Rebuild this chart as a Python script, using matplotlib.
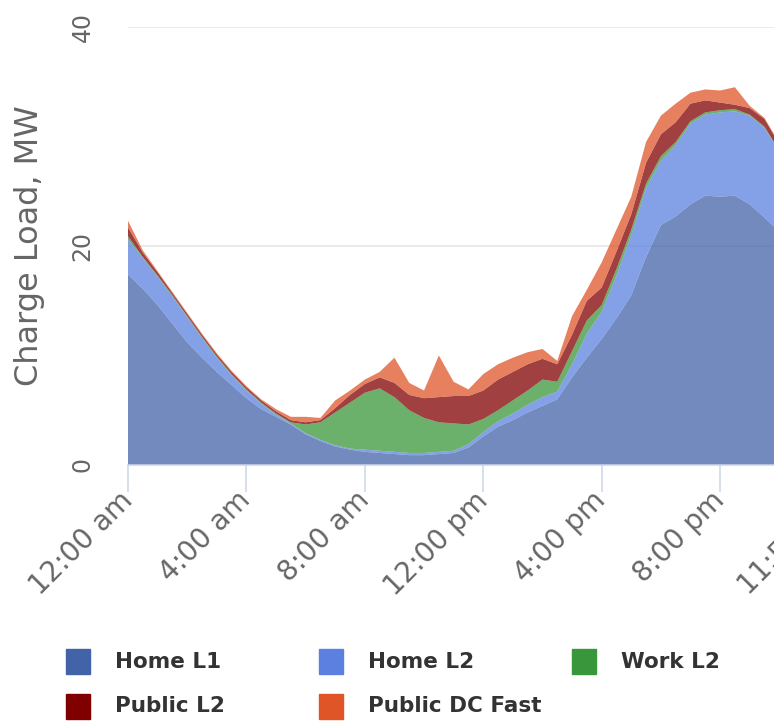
import matplotlib
matplotlib.use("Agg")
import matplotlib.pyplot as plt
from matplotlib.patches import Rectangle

# half-hour steps over the day (hours after midnight)
hours = [i * 0.5 for i in range(49)]

home_l1 = [17.4, 16.1, 14.6, 12.9, 11.2, 9.8, 8.5, 7.3, 6.1, 5.1,
           4.4, 3.7, 2.8, 2.2, 1.7, 1.4, 1.2, 1.1, 1.0, 0.9,
           0.9, 1.0, 1.1, 1.6, 2.6, 3.5, 4.1, 4.8, 5.4, 6.0,
           8.0, 9.8, 11.5, 13.4, 15.5, 19.0, 21.9, 22.7, 23.8, 24.6,
           24.5, 24.6, 23.8, 22.6, 21.3, 20.5, 19.6, 18.7, 17.8]
home_l2 = [3.2, 2.8, 2.6, 2.5, 2.3, 1.8, 1.3, 0.9, 0.7, 0.5,
           0.2, 0.1, 0.1, 0.1, 0.1, 0.1, 0.2, 0.2, 0.2, 0.2,
           0.2, 0.2, 0.2, 0.3, 0.4, 0.5, 0.6, 0.7, 0.8, 0.7,
           1.2, 2.2, 2.5, 3.9, 5.5, 6.3, 5.9, 6.5, 7.4, 7.4,
           7.7, 7.7, 8.1, 8.2, 7.3, 6.5, 5.9, 5.1, 4.4]
work_l2 = [0.3, 0.1, 0.1, 0.1, 0.1, 0.1, 0.1, 0.1, 0.1, 0.1,
           0.1, 0.1, 0.8, 1.6, 3.0, 4.2, 5.2, 5.7, 5.0, 3.9,
           3.2, 2.7, 2.5, 1.8, 1.2, 1.0, 1.2, 1.3, 1.6, 0.9,
           1.2, 1.2, 0.6, 0.6, 0.5, 0.4, 0.4, 0.3, 0.2, 0.2,
           0.2, 0.2, 0.1, 0.1, 0.1, 0.1, 0.1, 0.1, 0.1]
public_l2 = [0.8, 0.4, 0.3, 0.2, 0.2, 0.2, 0.2, 0.2, 0.2, 0.2,
             0.2, 0.2, 0.2, 0.2, 0.4, 0.7, 0.8, 1.0, 1.3, 1.4,
             1.8, 2.3, 2.5, 2.6, 2.6, 2.8, 2.6, 2.4, 1.9, 1.6,
             1.5, 1.8, 1.6, 1.6, 1.4, 1.9, 2.0, 1.8, 1.6, 1.1,
             0.7, 0.4, 0.6, 0.7, 0.6, 0.5, 0.5, 0.5, 0.4]
public_dc = [0.6, 0.2, 0.1, 0.1, 0.1, 0.1, 0.1, 0.1, 0.1, 0.1,
             0.2, 0.3, 0.5, 0.2, 0.7, 0.4, 0.4, 0.5, 2.3, 1.1,
             0.7, 3.8, 1.3, 0.6, 1.5, 1.4, 1.3, 1.1, 0.9, 0.3,
             1.7, 1.0, 2.3, 2.0, 1.6, 1.9, 1.7, 1.7, 1.0, 1.0,
             1.1, 1.6, 0.2, 0.1, 0.1, 0.1, 0.1, 0.1, 0.1]

series_names = ["Home L1", "Home L2", "Work L2", "Public L2", "Public DC Fast"]
colors = ["#4363a8", "#5b80e0", "#3a963a", "#800000", "#e05528"]

tick_hours = [0, 4, 8, 12, 16, 20, 23 + 59 / 60]
tick_labels = ["12:00 am", "4:00 am", "8:00 am", "12:00 pm", "4:00 pm", "8:00 pm", "11:59 pm"]

W, H = 774, 723
fig = plt.figure(figsize=(W / 100, H / 100), dpi=100)
# plot area runs past the right edge, like the cropped screenshot
ax = fig.add_axes([128 / W, 258 / H, 710 / W, 438 / H])

ax.stackplot(hours, home_l1, home_l2, work_l2, public_l2, public_dc,
             colors=colors, alpha=0.75, linewidth=0)

ax.set_xlim(0, tick_hours[-1])
ax.set_ylim(0, 40)
ax.set_xticks(tick_hours)
ax.set_xticklabels(tick_labels)
ax.set_yticks([0, 20, 40])

ax.yaxis.grid(True, color="#e6e6e6", linewidth=1.1)
ax.set_axisbelow(True)
for side in ["left", "top", "right"]:
    ax.spines[side].set_visible(False)
ax.spines["bottom"].set_color("#ccd6eb")
ax.spines["bottom"].set_linewidth(1.1)

ax.tick_params(axis="x", length=19.4, width=1.1, color="#ccd6eb", pad=3,
               labelsize=20, labelcolor="#666666")
for lbl in ax.get_xticklabels():
    lbl.set_rotation(45)
    lbl.set_ha("right")
    lbl.set_va("center")
    lbl.set_rotation_mode("anchor")

ax.tick_params(axis="y", length=0, pad=24, labelsize=17, labelcolor="#666666")
for lbl in ax.get_yticklabels():
    lbl.set_rotation(90)
    lbl.set_ha("right")
    lbl.set_va("center")

ax.set_ylabel("Charge Load, MW", fontsize=23, color="#666666")
ax.yaxis.label.set(rotation_mode="default", ha="center", va="center")
ax.yaxis.set_label_coords((30 - 128) / 710, 0.5)

# legend drawn by hand: 3 columns, 2 rows
for i, (name, c) in enumerate(zip(series_names, colors)):
    col, row = i % 3, i // 3
    x0 = 66 + col * 253
    y0 = 649 + row * 45
    fig.patches.append(Rectangle((x0 / W, 1 - (y0 + 25) / H), 24 / W, 25 / H,
                                 transform=fig.transFigure, color=c))
    fig.text((x0 + 49) / W, 1 - (y0 + 12.5) / H, name, fontsize=15.5,
             fontweight="bold", color="#333333", ha="left", va="center")

fig.savefig("out.png", dpi=100)
